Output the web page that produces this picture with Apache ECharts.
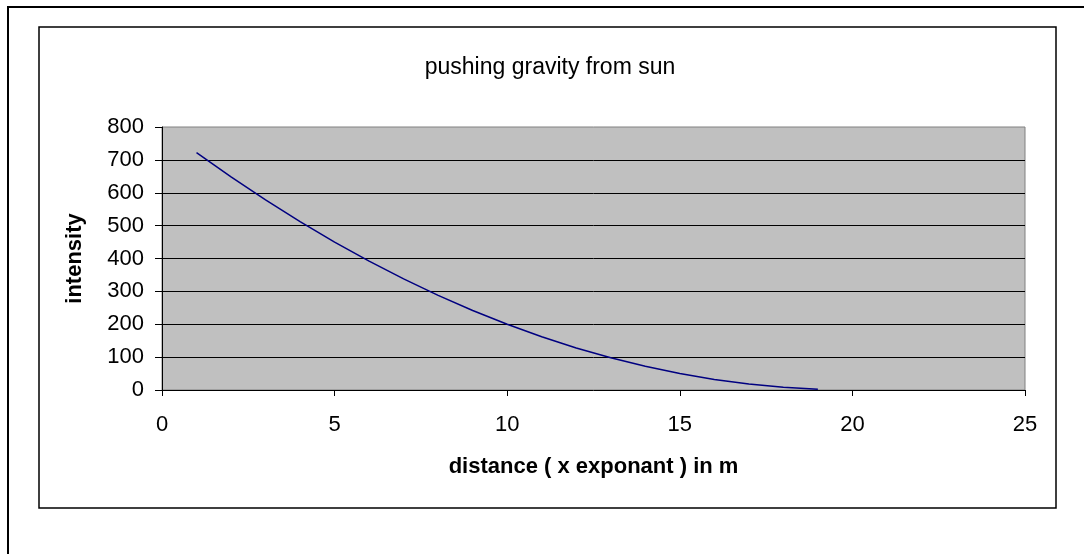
<!DOCTYPE html>
<html>
<head>
<meta charset="utf-8">
<script src="https://cdn.jsdelivr.net/npm/echarts@6/dist/echarts.min.js"></script>
<style>
html,body{margin:0;padding:0;background:#fff;}
#chart{width:1084px;height:554px;}
</style>
</head>
<body>
<div id="chart"></div>
<script>
const titleText = "pushing gravity from sun";
const xAxisName = "distance ( x exponant ) in m";
const yAxisName = "intensity";
const distance = [1,2,3,4,5,6,7,8,9,10,11,12,13,14,15,16,17,18,19];
const intensity = [722,648,578,512,450,392,338,288,242,200,162,128,98,72,50,32,18,8,2];

const points = distance.map((d, i) => [d, intensity[i]]);
const FONT = "'Liberation Sans', Arial, sans-serif";

const chart = echarts.init(document.getElementById('chart'), null, {renderer: 'canvas'});
chart.setOption({
  animation: false,
  backgroundColor: '#ffffff',
  graphic: [
    {type: 'rect', shape: {x: 8, y: 7, width: 1120, height: 600}, style: {fill: 'none', stroke: '#000', lineWidth: 2}, silent: true, z: -10},
    {type: 'rect', shape: {x: 39, y: 27, width: 1017, height: 481}, style: {fill: 'none', stroke: '#000', lineWidth: 1.5}, silent: true, z: -10}
  ],
  title: {
    text: titleText,
    left: 545, top: 51, textAlign: 'center',
    textStyle: {fontFamily: FONT, fontSize: 23, fontWeight: 'normal', color: '#000'}
  },
  grid: {
    left: 162, right: 59, top: 127, bottom: 164,
    show: true, backgroundColor: '#C0C0C0', borderColor: '#808080', borderWidth: 1
  },
  xAxis: {
    type: 'value', min: 0, max: 25, interval: 5,
    name: xAxisName, nameLocation: 'middle', nameGap: 66,
    nameTextStyle: {fontFamily: FONT, fontSize: 22, fontWeight: 'bold', color: '#000'},
    axisLine: {show: true, onZero: false, lineStyle: {color: '#000', width: 1}},
    axisTick: {show: true, inside: false, length: 6, lineStyle: {color: '#000'}},
    axisLabel: {fontFamily: FONT, fontSize: 22, color: '#000', margin: 24},
    splitLine: {show: false}
  },
  yAxis: {
    type: 'value', min: 0, max: 800, interval: 100,
    name: yAxisName, nameLocation: 'middle', nameGap: 76, nameRotate: 90,
    nameTextStyle: {fontFamily: FONT, fontSize: 22, fontWeight: 'bold', color: '#000'},
    axisLine: {show: true, lineStyle: {color: '#000', width: 1}},
    axisTick: {show: true, inside: false, length: 7, lineStyle: {color: '#000'}},
    axisLabel: {fontFamily: FONT, fontSize: 22, color: '#000', margin: 18},
    splitLine: {show: true, showMaxLine: false, showMinLine: false, lineStyle: {color: '#000', width: 1}}
  },
  series: [{
    type: 'line',
    data: points,
    showSymbol: false,
    symbol: 'none',
    smooth: false,
    lineStyle: {color: '#000080', width: 1.5},
    itemStyle: {color: '#000080'}
  }]
});
</script>
</body>
</html>
